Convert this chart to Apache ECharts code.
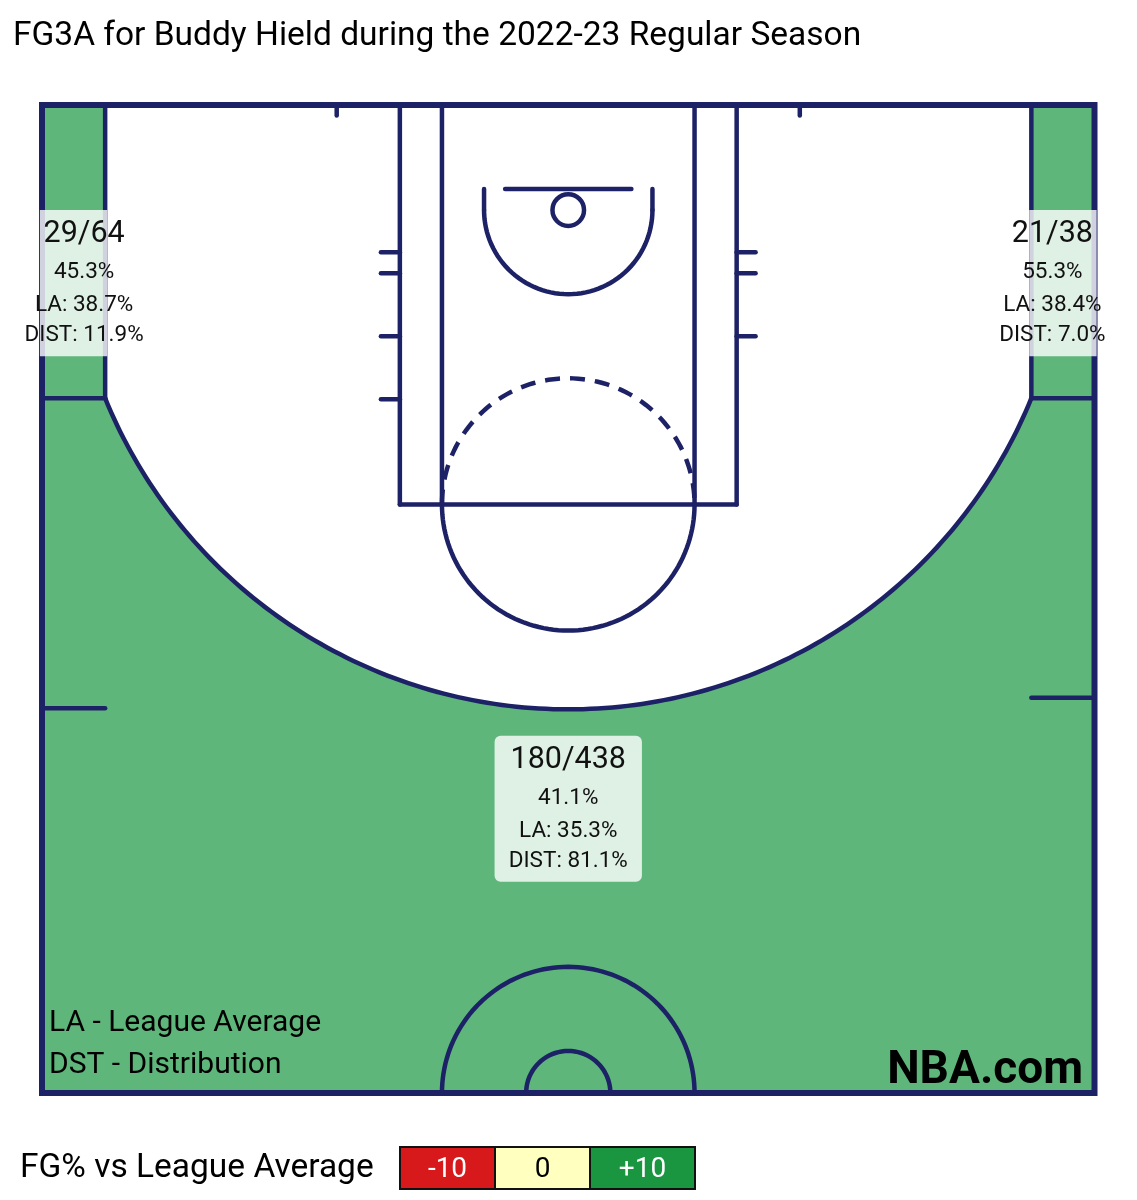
<!DOCTYPE html>
<html>
<head>
<meta charset="utf-8">
<script src="https://cdn.jsdelivr.net/npm/echarts/dist/echarts.min.js"></script>
<style>html,body{margin:0;padding:0;background:#fff}#c{width:1137px;height:1200px}</style>
</head>
<body>
<div id="c"></div>
<script>
// ---------------- DATA ----------------
const titleText = 'FG3A for Buddy Hield during the 2022-23 Regular Season';
const zones = ['Left Corner 3', 'Right Corner 3', 'Above the Break 3'];
const fgm = [29, 21, 180];
const fga = [64, 38, 438];
const fgPct = [45.3, 55.3, 41.1];
const leaguePct = [38.7, 38.4, 35.3];
const distPct = [11.9, 7.0, 81.1];
const legendTicks = ['-10', '0', '+10'];
const legendNotes = ['LA - League Average', 'DST - Distribution'];

// ---------------- STYLE / LAYOUT ----------------
const NAVY = '#1d2166';
const LW = 4.5;
const ZONE_GREEN = '#5eb67b', ZONE_YELLOW = '#ffffbf', ZONE_RED = '#d7191c';
const legendColors = ['#d7191c', '#ffffbf', '#1a9641'];
const legendTextColors = ['#ffffff', '#000000', '#ffffff'];
function zoneColor(diff) { return diff >= 2 ? ZONE_GREEN : (diff <= -2 ? ZONE_RED : ZONE_YELLOW); }

// court geometry in feet (x: -25..25, y: 0 baseline .. 47 half court)
function arc(cx, cy, r, a0, a1, n) {
  const pts = [];
  for (let k = 0; k <= n; k++) { const a = a0 + (a1 - a0) * k / n; pts.push([cx + r * Math.cos(a), cy + r * Math.sin(a)]); }
  return pts;
}
const HOOP_Y = 5, R3 = 23.75, CX3 = 22;
const a3 = Math.acos(CX3 / R3);
const threeArc = arc(0, HOOP_Y, R3, Math.PI - a3, a3, 160);
const BREAK_Y = threeArc[0][1];
const zonePolys = [
  [[-25, 0], [-22, 0], [-22, BREAK_Y], [-25, BREAK_Y]],
  [[22, 0], [25, 0], [25, BREAK_Y], [22, BREAK_Y]],
  [[-25, BREAK_Y]].concat(threeArc, [[25, BREAK_Y], [25, 47], [-25, 47]])
];
const courtLines = [
  [[-8, 0], [-8, 19]], [[8, 0], [8, 19]], [[-8, 19], [8, 19]],
  [[-6, 0], [-6, 19]], [[6, 0], [6, 19]],
  [[-3, 4], [3, 4]],
  [[-4, 4], [-4, HOOP_Y]], [[4, 4], [4, HOOP_Y]],
  [[-22, 0], [-22, BREAK_Y]], [[22, 0], [22, BREAK_Y]],
  [[-25, BREAK_Y], [-22, BREAK_Y]], [[22, BREAK_Y], [25, BREAK_Y]],
  [[-8.9, 7], [-8, 7]], [[-8.9, 8], [-8, 8]], [[-8.9, 11], [-8, 11]], [[-8.9, 14], [-8, 14]],
  [[8, 7], [8.9, 7]], [[8, 8], [8.9, 8]], [[8, 11], [8.9, 11]],
  [[-25, 28.7], [-22, 28.7]], [[22, 28.2], [25, 28.2]],
  [[-11, 0], [-11, 0.5]], [[11, 0], [11, 0.5]]
];
const courtArcs = [
  { pts: threeArc },
  { pts: arc(0, HOOP_Y, 4, Math.PI, 0, 60) },
  { pts: arc(0, 19, 6, Math.PI, 0, 80) },
  { pts: arc(0, 19, 6, Math.PI, 2 * Math.PI, 80), dash: [15, 10] },
  { pts: arc(0, 47, 6, Math.PI, 2 * Math.PI, 80) },
  { pts: arc(0, 47, 2, Math.PI, 2 * Math.PI, 40) }
];
// label boxes (feet) and text anchors
const labelLayout = [
  { x0: -25.1, x1: -21.9, y0: 5, y1: 11.95, tx: -23, r: 0 },
  { x0: 21.9, x1: 25.1, y0: 5, y1: 11.95, tx: 23, r: 0 },
  { x0: -3.5, x1: 3.5, y0: 30, y1: 36.95, tx: 0, r: 6 }
];
const lineOffsets = [24.5, 62.5, 95.5, 125.5];
const lineFonts = ['30.5px Roboto', '22.5px Roboto', '22.5px Roboto', '22.5px Roboto'];

function txt(x, y, text, font, fill, align) {
  return { type: 'text', x: x, y: y, style: { text: text, font: font, fill: fill,
    align: align || 'center', verticalAlign: 'middle', textAlign: align || 'center', textVerticalAlign: 'middle' } };
}

const chart = echarts.init(document.getElementById('c'), null, { renderer: 'canvas' });

// bottom legend
const cellEdges = [400, 495, 590, 695];
const legendGraphics = [];
legendTicks.forEach((t, i) => {
  legendGraphics.push({ type: 'rect', shape: { x: cellEdges[i], y: 1147, width: cellEdges[i + 1] - cellEdges[i], height: 42 },
    style: { fill: legendColors[i], stroke: '#111', lineWidth: 2 } });
  legendGraphics.push({ type: 'text', x: (cellEdges[i] + cellEdges[i + 1]) / 2, y: 1170,
    style: { text: t, font: '28px Roboto', fill: legendTextColors[i], textAlign: 'center', textVerticalAlign: 'middle', align: 'center', verticalAlign: 'middle' } });
});

chart.setOption({
  animation: false,
  backgroundColor: '#ffffff',
  title: { text: titleText, left: 8, top: 15,
    textStyle: { fontFamily: 'Roboto', fontSize: 33.5, fontWeight: 'normal', color: '#000' } },
  grid: { left: 42, top: 105, width: 1052.5, height: 988 },
  xAxis: { type: 'value', min: -25, max: 25, show: false },
  yAxis: { type: 'value', min: 0, max: 47, inverse: true, show: false },
  graphic: [
    { type: 'text', left: 49, top: 1008, style: { text: legendNotes[0], font: '30px Roboto', fill: '#000' }, z: 100 },
    { type: 'text', left: 49, top: 1050, style: { text: legendNotes[1], font: '30px Roboto', fill: '#000' }, z: 100 },
    { type: 'text', right: 54, top: 1048, style: { text: 'NBA.com', font: 'bold 46px Roboto', fill: '#000' }, z: 100 },
    { type: 'text', left: 20, top: 1152, style: { text: 'FG% vs League Average', font: '33.5px Roboto', fill: '#000' } },
    { type: 'group', children: legendGraphics }
  ],
  series: [
    {
      type: 'custom', name: 'zones', z: 1, clip: false,
      data: zones.map((z, i) => ({ name: z, value: [i, +(fgPct[i] - leaguePct[i]).toFixed(1)] })),
      renderItem: function (params, api) {
        const i = params.dataIndex;
        return { type: 'polygon', shape: { points: zonePolys[i].map(p => api.coord(p)) },
          style: { fill: zoneColor(fgPct[i] - leaguePct[i]) } };
      }
    },
    {
      type: 'custom', name: 'court', z: 2, clip: false, silent: true,
      data: [[0, 0]],
      renderItem: function (params, api) {
        const ch = [];
        const tl = api.coord([-25, 0]), br = api.coord([25, 47]);
        courtLines.forEach(l => {
          const a = api.coord(l[0]), b = api.coord(l[1]);
          ch.push({ type: 'line', shape: { x1: a[0], y1: a[1], x2: b[0], y2: b[1] },
            style: { stroke: NAVY, lineWidth: LW, lineCap: 'round' } });
        });
        courtArcs.forEach(c => {
          ch.push({ type: 'polyline', shape: { points: c.pts.map(p => api.coord(p)) },
            style: { stroke: NAVY, lineWidth: LW, fill: null, lineDash: c.dash || null, lineCap: c.dash ? 'butt' : 'round' } });
        });
        const hc = api.coord([0, HOOP_Y]);
        const s = api.size([1, 1]);
        ch.push({ type: 'circle', shape: { cx: hc[0], cy: hc[1], r: 0.75 * s[0] },
          style: { stroke: NAVY, lineWidth: LW, fill: null } });
        ch.push({ type: 'rect', shape: { x: tl[0], y: tl[1], width: br[0] - tl[0], height: br[1] - tl[1] },
          style: { stroke: NAVY, lineWidth: 6, fill: null } });
        return { type: 'group', children: ch };
      }
    },
    {
      type: 'custom', name: 'labels', z: 3, clip: false,
      data: zones.map((z, i) => ({ name: z, value: [i, fgm[i], fga[i], fgPct[i], leaguePct[i], distPct[i]] })),
      renderItem: function (params, api) {
        const i = params.dataIndex;
        const L = labelLayout[i];
        const p0 = api.coord([L.x0, L.y0]), p1 = api.coord([L.x1, L.y1]);
        const tx = api.coord([L.tx, L.y0])[0];
        const lines = [fgm[i] + '/' + fga[i], fgPct[i].toFixed(1) + '%',
          'LA: ' + leaguePct[i].toFixed(1) + '%', 'DIST: ' + distPct[i].toFixed(1) + '%'];
        const ch = [{ type: 'rect', shape: { x: p0[0], y: p0[1], width: p1[0] - p0[0], height: p1[1] - p0[1], r: L.r },
          style: { fill: 'rgba(255,255,255,0.8)' } }];
        lines.forEach((t, k) => ch.push(txt(tx, p0[1] + lineOffsets[k], t, lineFonts[k], '#111')));
        return { type: 'group', children: ch };
      }
    }
  ]
});
</script>
</body>
</html>
